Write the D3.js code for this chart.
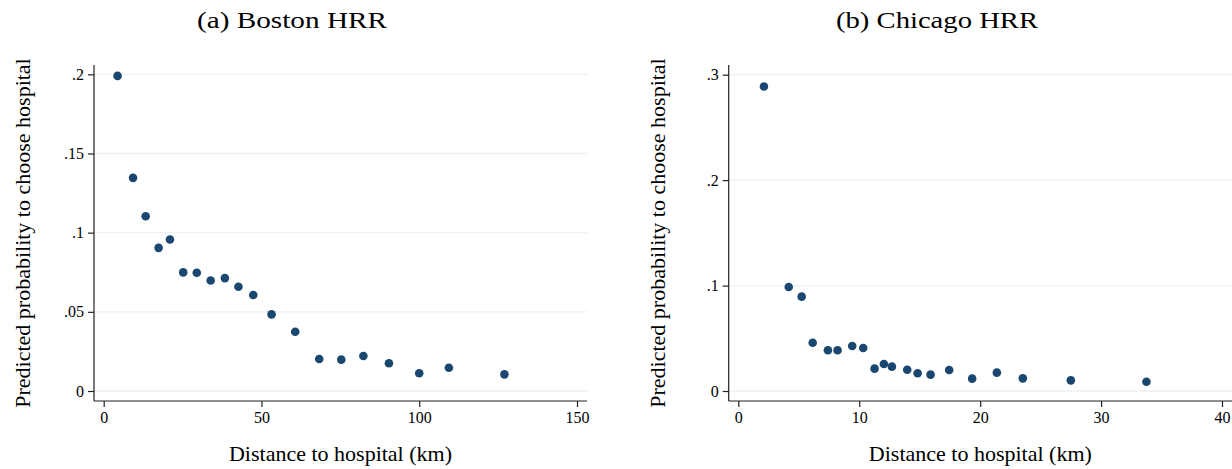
<!DOCTYPE html>
<html>
<meta charset="utf-8">
<script src="https://d3js.org/d3.v7.js"></script>
<style>
  body { margin: 0; background: #fff; }
  svg text { font-family: "Liberation Serif", "Times New Roman", serif; fill: #000; }
</style>
<body>
<div id="my_dataviz"></div>
</body>
<script type="text/javascript">
  // Boston HRR: distance (km) and predicted probability
  var bostonDist = [4.4, 9.3, 13.3, 17.4, 21.0, 25.2, 29.5, 33.9, 38.4, 42.7, 47.4, 53.2,
                    60.7, 68.3, 75.3, 82.3, 90.4, 100.0, 109.4, 127.0];
  var bostonProb = [0.199, 0.1346, 0.1104, 0.0904, 0.0957, 0.0749, 0.0747, 0.0698, 0.0713, 0.0658, 0.0606, 0.0484,
                    0.0374, 0.0202, 0.0198, 0.0221, 0.0175, 0.0112, 0.0147, 0.0105];
  var bostonXTicks = [0, 50, 100, 150];
  var bostonYTicks = [0, 0.05, 0.1, 0.15, 0.2];
  var bostonYLabels = ["0", ".05", ".1", ".15", ".2"];

  // Chicago HRR
  var chicagoDist = [2.12, 4.17, 5.24, 6.15, 7.41, 8.21, 9.42, 10.33, 11.27, 12.04, 12.70, 13.97, 14.83, 15.9,
                     17.44, 19.34, 21.38, 23.53, 27.5, 33.75];
  var chicagoProb = [0.2888, 0.0987, 0.0895, 0.0458, 0.0386, 0.0386, 0.0427, 0.0408, 0.0212, 0.0256, 0.0231, 0.0202, 0.0168, 0.0155,
                     0.0199, 0.0117, 0.0174, 0.0120, 0.0101, 0.0088];
  var chicagoXTicks = [0, 10, 20, 30, 40];
  var chicagoYTicks = [0, 0.1, 0.2, 0.3];
  var chicagoYLabels = ["0", ".1", ".2", ".3"];

  var svg = d3.select("#my_dataviz")
    .append("svg")
      .attr("width", 1232)
      .attr("height", 469);

  var dotColor = "#1a476f";
  var gridColor = "#eaf2f3";

  function drawPanel(opt) {
    var x = d3.scaleLinear().domain(opt.xDomain).range(opt.xRange);
    var y = d3.scaleLinear().domain(opt.yDomain).range(opt.yRange);
    var g = svg.append("g");

    // grid lines
    g.selectAll(".grid")
      .data(opt.yTicks)
      .enter()
      .append("line")
        .attr("x1", opt.left)
        .attr("x2", opt.right)
        .attr("y1", d => y(d))
        .attr("y2", d => y(d))
        .style("stroke", gridColor)
        .style("stroke-width", 1.3);

    // y axis
    var yAxis = g.append("g")
      .attr("transform", "translate(" + opt.left + ",0)")
      .call(d3.axisLeft(y).tickValues(opt.yTicks)
        .tickFormat((d, i) => opt.yLabels[i])
        .tickSize(6).tickSizeOuter(0).tickPadding(4));
    yAxis.select(".domain").attr("d", "M0," + opt.top + "V" + opt.bottom);

    // x axis
    var xAxis = g.append("g")
      .attr("transform", "translate(0," + opt.bottom + ")")
      .call(d3.axisBottom(x).tickValues(opt.xTicks).tickFormat(d3.format("d"))
        .tickSize(6).tickSizeOuter(0).tickPadding(5));
    xAxis.select(".domain").attr("d", "M" + opt.left + ",0H" + opt.right);

    [xAxis, yAxis].forEach(a => a.attr("font-family", null).attr("font-size", null));
    g.selectAll(".domain, .tick line").style("stroke", "#222").style("stroke-width", 1.2);
    g.selectAll(".tick text")
      .style("font-size", "16px")
      .style("font-family", "'Liberation Serif', serif")
      .style("fill", "#000");

    // points
    g.selectAll("circle")
      .data(opt.dist)
      .enter()
      .append("circle")
        .attr("cx", d => x(d))
        .attr("cy", (d, i) => y(opt.prob[i]))
        .attr("r", 4.3)
        .style("fill", dotColor);

    var cx = (opt.left + opt.right) / 2;
    // axis titles
    g.append("text")
      .attr("x", cx)
      .attr("y", 461)
      .attr("text-anchor", "middle")
      .style("font-size", "22px")
      .text("Distance to hospital (km)");

    g.append("text")
      .attr("transform", "translate(" + (opt.left - 64) + ",233) rotate(-90)")
      .attr("text-anchor", "middle")
      .style("font-size", "22px")
      .text("Predicted probability to choose hospital");

    // panel title
    g.append("text")
      .attr("x", opt.titleX)
      .attr("y", 28)
      .attr("text-anchor", "middle")
      .attr("textLength", opt.titleW)
      .attr("lengthAdjust", "spacingAndGlyphs")
      .style("font-size", "24px")
      .text(opt.title);
  }

  drawPanel({
    dist: bostonDist, prob: bostonProb,
    xDomain: [0, 150], xRange: [103.7, 577],
    yDomain: [0, 0.2], yRange: [391, 74.3],
    xTicks: bostonXTicks, yTicks: bostonYTicks, yLabels: bostonYLabels,
    left: 94, right: 587, top: 65, bottom: 401,
    title: "(a) Boston HRR", titleX: 292, titleW: 190
  });

  drawPanel({
    dist: chicagoDist, prob: chicagoProb,
    xDomain: [0, 40], xRange: [738.3, 1222],
    yDomain: [0, 0.3], yRange: [391, 74.7],
    xTicks: chicagoXTicks, yTicks: chicagoYTicks, yLabels: chicagoYLabels,
    left: 728.7, right: 1232, top: 65, bottom: 401,
    title: "(b) Chicago HRR", titleX: 937, titleW: 202
  });
</script>
</html>
